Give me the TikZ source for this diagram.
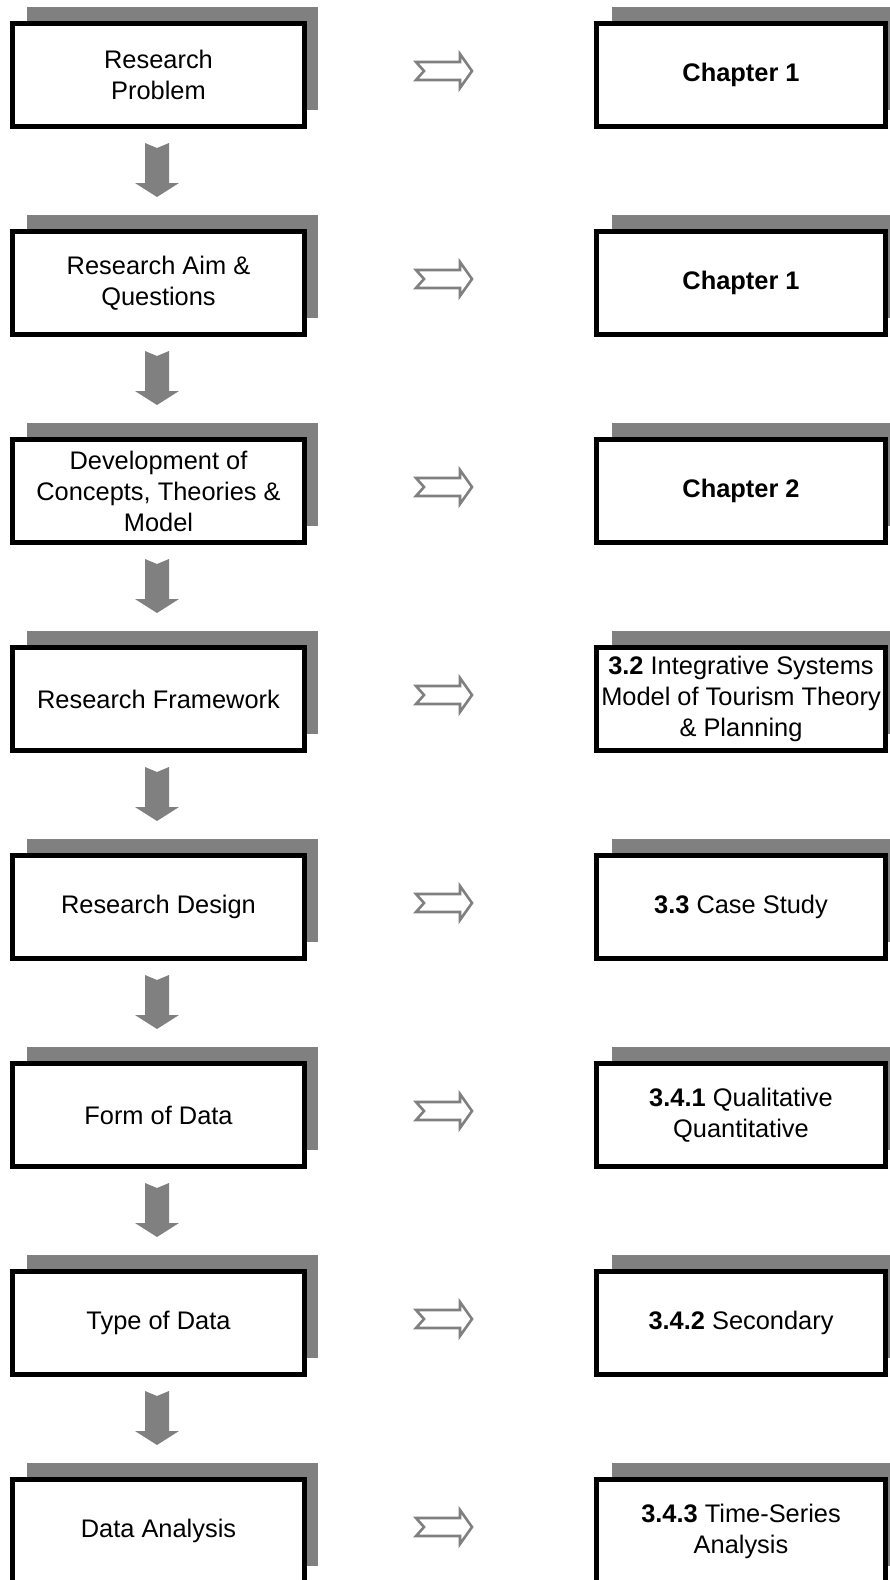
\documentclass[tikz,border=0pt]{standalone}
\usepackage{fontspec}
\setmainfont{Liberation Sans}
\usetikzlibrary{calc,backgrounds}
\definecolor{shadegray}{HTML}{808080}
\tikzset{
  x=1pt, y=-1pt,
  stagebox/.style={draw=black, line width=5pt, fill=white, align=center,
    inner sep=0pt, minimum height=103pt,
    font=\fontsize{25.4}{31}\selectfont},
  leftbox/.style={stagebox, minimum width=292pt},
  rightbox/.style={stagebox, minimum width=289pt},
  boxshadow/.style={fill=shadegray},
  downarrow/.style={fill=shadegray},
  maparrow/.style={draw=shadegray, line width=2.6pt, fill=white, line join=miter},
}
\newcommand{\stageshadow}[2]{%
  \fill[boxshadow] ($(#1.north west)+(#2,-14.5)$) rectangle ($(#1.south east)+(11,-19)$);}
\newcommand{\stagedown}[1]{%
  \fill[downarrow, shift={($(#1.south)+(-1.5,14)$)}]
    (-12,0) -- (0,5) -- (12,0) -- (12,40) -- (22,40) -- (0,54) -- (-22,40) -- (-12,40) -- cycle;}
\newcommand{\stagemap}[1]{%
  \draw[maparrow, shift={($(L#1.east)+(109,-4)$)}]
    (0,-9) -- (44,-9) -- (44,-17) -- (56,0) -- (44,17) -- (44,9) -- (0,9) -- (8,0) -- cycle;}
\begin{document}
\begin{tikzpicture}
\useasboundingbox (0,0) rectangle (890,1580);
\clip (0,0) rectangle (890,1580);

% research stages (left column)
\node[leftbox] (L1) at (158.5,75)   {Research\\Problem};
\node[leftbox] (L2) at (158.5,283)  {Research Aim \&\\Questions};
\node[leftbox] (L3) at (158.5,491)  {Development of\\Concepts, Theories \&\\Model};
\node[leftbox] (L4) at (158.5,699)  {Research Framework};
\node[leftbox] (L5) at (158.5,907)  {Research Design};
\node[leftbox] (L6) at (158.5,1115) {Form of Data};
\node[leftbox] (L7) at (158.5,1323) {Type of Data};
\node[leftbox] (L8) at (158.5,1531) {Data Analysis};

% where each stage is covered (right column)
\node[rightbox] (R1) at (741,75)   {\textbf{Chapter 1}};
\node[rightbox] (R2) at (741,283)  {\textbf{Chapter 1}};
\node[rightbox] (R3) at (741,491)  {\textbf{Chapter 2}};
\node[rightbox] (R4) at (741,699)  {\textbf{3.2} Integrative Systems\\Model of Tourism Theory\\\& Planning};
\node[rightbox] (R5) at (741,907)  {\textbf{3.3} Case Study};
\node[rightbox] (R6) at (741,1115) {\textbf{3.4.1} Qualitative\\Quantitative};
\node[rightbox] (R7) at (741,1323) {\textbf{3.4.2} Secondary};
\node[rightbox] (R8) at (741,1531) {\textbf{3.4.3} Time-Series\\Analysis};

% drop shadows behind the boxes
\begin{pgfonlayer}{background}
  \foreach \i in {1,...,8} {
    \stageshadow{L\i}{17}
    \stageshadow{R\i}{18}
  }
\end{pgfonlayer}

% solid arrows between consecutive stages
\foreach \i in {1,...,7} {\stagedown{L\i}}

% hollow arrows from each stage to its chapter
\foreach \i in {1,...,8} {\stagemap{\i}}
\end{tikzpicture}
\end{document}
